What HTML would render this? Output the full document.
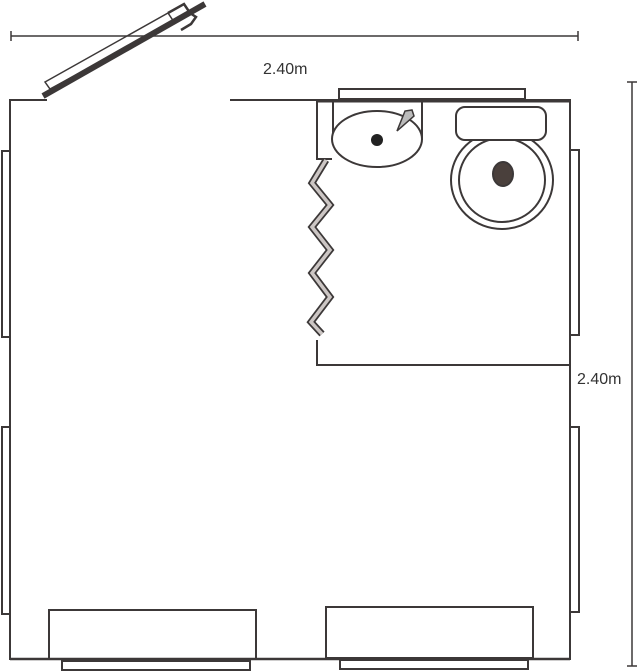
<!DOCTYPE html>
<html><head><style>body{margin:0;background:#fff}svg{display:block}</style></head><body>
<svg width="640" height="672" viewBox="0 0 640 672" xmlns="http://www.w3.org/2000/svg" fill="none" stroke="#3c3838" stroke-width="2">
<!-- dimension lines -->
<line x1="11" y1="36" x2="578" y2="36" stroke-width="1.5"/>
<line x1="11" y1="31" x2="11" y2="41" stroke-width="1.5"/>
<line x1="578" y1="31" x2="578" y2="41" stroke-width="1.5"/>
<line x1="632" y1="82" x2="632" y2="666" stroke-width="1.5"/>
<line x1="627" y1="82" x2="637" y2="82" stroke-width="1.5"/>
<line x1="627" y1="666" x2="637" y2="666" stroke-width="1.5"/>
<text x="263" y="74" fill="#333" stroke="none" font-family="Liberation Sans, sans-serif" font-size="16">2.40m</text>
<text x="577" y="384" fill="#333" stroke="none" font-family="Liberation Sans, sans-serif" font-size="16">2.40m</text>
<!-- room walls -->
<polyline points="47,100 10,100 10,659 570,659 570,100 230,100"/>
<!-- door -->
<line x1="43" y1="96" x2="205" y2="4" stroke-width="6"/>
<polygon points="45,82 168,13 174,22 50,89" stroke-width="1.5"/>
<polyline points="168,13 184,4 190,13 196,17 191,24 181,30" stroke-width="2.5"/>
<!-- left windows -->
<rect x="2" y="151" width="8" height="186"/>
<rect x="2" y="427" width="8" height="187"/>
<!-- right windows -->
<rect x="570" y="150" width="9" height="185"/>
<rect x="570" y="427" width="9" height="185"/>
<!-- top window -->
<rect x="339" y="89" width="186" height="10"/>
<line x1="317" y1="101" x2="570" y2="101" stroke-width="3"/>
<!-- partition -->
<polyline points="333,101 317,101 317,159 332,159"/>
<polyline points="317,340 317,365 570,365"/>
<polyline points="326,160 312,183 330,205 312,227 330,250 312,273 330,297 311,322 322,334" stroke="#3c3838" stroke-width="7" stroke-linejoin="miter" stroke-miterlimit="3"/>
<polyline points="326,160 312,183 330,205 312,227 330,250 312,273 330,297 311,322 322,334" stroke="#ccc6c4" stroke-width="3.5" stroke-linejoin="miter" stroke-miterlimit="3"/>
<!-- sink -->
<polyline points="333,101 333,140"/>
<polyline points="422,101 422,140"/>
<ellipse cx="377" cy="139" rx="45" ry="28" fill="#fff"/>
<ellipse cx="377" cy="140" rx="6" ry="6" fill="#222" stroke="none"/>
<polygon points="397,131 405,111 412,110 414,116" fill="#bbb" stroke-width="1.5"/>
<!-- toilet -->
<ellipse cx="502" cy="180" rx="51" ry="49" fill="#fff"/>
<ellipse cx="502" cy="180" rx="43" ry="42" fill="#fff"/>
<ellipse cx="503" cy="174" rx="10" ry="12" fill="#4a403c"/>
<rect x="456" y="107" width="90" height="33" rx="9" fill="#fff"/>
<!-- bottom units -->
<rect x="49" y="610" width="207" height="49" fill="#fff"/>
<rect x="62" y="661" width="188" height="9"/>
<rect x="326" y="607" width="207" height="51" fill="#fff"/>
<rect x="340" y="660" width="188" height="9"/>
<line x1="10" y1="659" x2="570" y2="659" stroke-width="2.5"/>
</svg>
</body></html>
